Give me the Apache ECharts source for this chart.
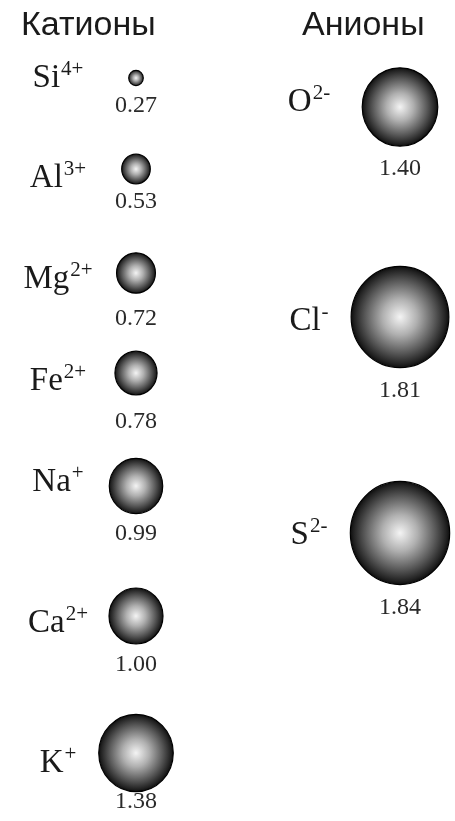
<!DOCTYPE html>
<html><head><meta charset="utf-8">
<script src="https://cdn.jsdelivr.net/npm/echarts@6/dist/echarts.min.js"></script>
<style>html,body{margin:0;padding:0;background:#fff}#c{width:455px;height:821px}</style>
</head><body><div id="c"></div>
<script>
// ---- data ----
const cationSymbols = ['Si','Al','Mg','Fe','Na','Ca','K'];
const cationCharges = ['4+','3+','2+','2+','+','2+','+'];
const cationRadii   = [0.27,0.53,0.72,0.78,0.99,1.00,1.38];
const anionSymbols  = ['O','Cl','S'];
const anionCharges  = ['2-','-','2-'];
const anionRadii    = [1.40,1.81,1.84];
const headers = ['Катионы','Анионы'];

// ---- layout (axis units == pixels) ----
const cationX = 136, anionX = 400;
const cationNameX = 58, anionNameX = 309;
const cationRowY = [78,169,273,373,486,616,753];
const anionRowY  = [107,317,533];
const cationNameY = [77,177,278,380,481,622,762];
const anionNameY  = [101,320,534];
const cationValGap = [8,5,13,14,7,8,-3];
const anionValGap  = [10,10,11];
const pxPerUnitX = 54, pxPerUnitY = 56;

const sphereColor = new echarts.graphic.RadialGradient(0.5, 0.5, 0.5, [
  {offset:0, color:'#f4f4f4'},
  {offset:0.35, color:'#b0b0b0'},
  {offset:0.7, color:'#5a5a5a'},
  {offset:0.92, color:'#222'},
  {offset:1, color:'#0a0a0a'}
]);

function sphereData(x, ys, radii, gaps){
  return radii.map((r,i)=>({
    value:[x, ys[i], r],
    symbolSize:[r*pxPerUnitX, r*pxPerUnitY],
    label:{distance:gaps[i]}
  }));
}
function nameData(x, ys, syms, ch){
  return syms.map((s,i)=>({value:[x, ys[i]], name:s, charge:ch[i]}));
}
const nameLabel = {
  show:true, position:'inside', color:'#1a1a1a',
  formatter:p=>'{b|'+p.data.name+'}{s|'+p.data.charge+'}',
  rich:{
    b:{fontFamily:'Liberation Serif', fontSize:33, color:'#1a1a1a', lineHeight:36, verticalAlign:'bottom'},
    s:{fontFamily:'Liberation Serif', fontSize:21, color:'#1a1a1a', lineHeight:36, verticalAlign:'top', padding:[0,0,0,1]}
  }
};
const valueLabel = {
  show:true, position:'bottom',
  formatter:p=>p.data.value[2].toFixed(2),
  fontFamily:'Liberation Serif', fontSize:24, color:'#2a2a2a'
};

const chart = echarts.init(document.getElementById('c'), null, {renderer:'canvas'});
chart.setOption({
  backgroundColor:'#fff',
  animation:false,
  grid:{left:0,right:0,top:0,bottom:0},
  xAxis:{type:'value',min:0,max:455,show:false},
  yAxis:{type:'value',min:0,max:821,inverse:true,show:false},
  graphic:[
    {type:'text', left:21, top:9, style:{text:headers[0], font:'34px "Liberation Sans"', fill:'#1a1a1a'}},
    {type:'text', left:302, top:9, style:{text:headers[1], font:'34px "Liberation Sans"', fill:'#1a1a1a'}}
  ],
  series:[
    {type:'scatter', data:sphereData(cationX, cationRowY, cationRadii, cationValGap),
     itemStyle:{color:sphereColor, borderColor:'#000', borderWidth:1.2, opacity:1},
     label:valueLabel, silent:true},
    {type:'scatter', data:sphereData(anionX, anionRowY, anionRadii, anionValGap),
     itemStyle:{color:sphereColor, borderColor:'#000', borderWidth:1.2, opacity:1},
     label:valueLabel, silent:true},
    {type:'scatter', data:nameData(cationNameX, cationNameY, cationSymbols, cationCharges),
     symbolSize:1, itemStyle:{color:'rgba(0,0,0,0)', opacity:1}, label:nameLabel, silent:true},
    {type:'scatter', data:nameData(anionNameX, anionNameY, anionSymbols, anionCharges),
     symbolSize:1, itemStyle:{color:'rgba(0,0,0,0)', opacity:1}, label:nameLabel, silent:true}
  ]
});
</script></body></html>
